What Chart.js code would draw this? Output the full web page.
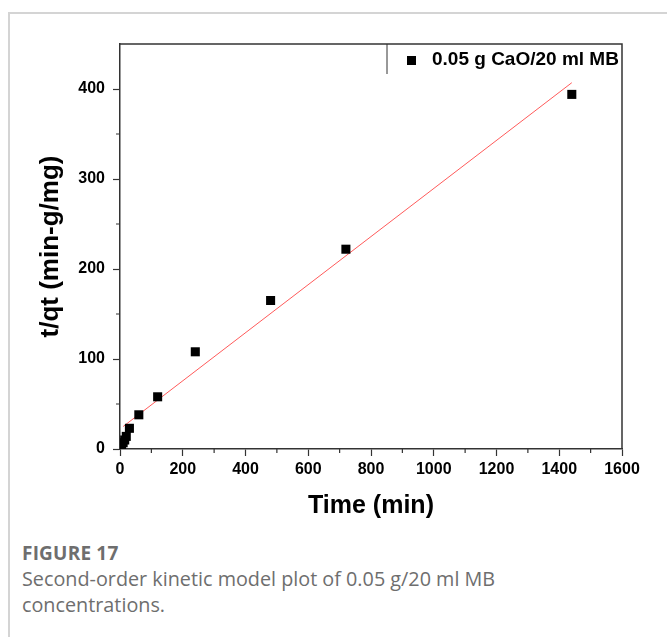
<!DOCTYPE html>
<html>
<head>
<meta charset="utf-8">
<script src="https://cdn.jsdelivr.net/npm/chart.js@4.4.0/dist/chart.umd.min.js"></script>
<style>
    html, body { margin: 0; padding: 0; background: #fff; }
    body { width: 667px; height: 637px; position: relative; overflow: hidden; }
    .card {
        position: absolute; left: 8px; top: 12px; width: 700px; height: 700px;
        border-top: 2px solid #d4d4d4; border-left: 2px solid #d4d4d4;
    }
    #chart { position: absolute; left: 0; top: 0; }
    .caption {
        position: absolute; left: 22px; top: 540px; width: 495px;
        font-family: "Open Sans", sans-serif; color: #6e6e6e; font-size: 19.8px; line-height: 26px;
    }
    .caption b { display: block; font-size: 19px; font-weight: 700; letter-spacing: 0.2px; }
</style>
</head>
<body>
<div class="card"></div>
<canvas id="chart" width="667" height="530"></canvas>
<div class="caption">
    <b>FIGURE 17</b>
    Second-order kinetic model plot of 0.05 g/20 ml MB concentrations.
</div>
<script>
const timeMin = [5, 10, 15, 20, 30, 60, 120, 240, 480, 720, 1440];
const tOverQt = [3, 7, 10, 14, 23, 38, 58, 108, 165, 222, 394];

// Fitted line end points
const fitTime = [10, 1440];
const fitValue = [25, 407];

const seriesLabel = '0.05 g CaO/20 ml MB';
const xTitle = 'Time (min)';
const yTitle = 't/qt (min-g/mg)';

const axisColor = '#333';
const tickFont = { family: '"Liberation Sans", Arial, sans-serif', size: 16, weight: 'bold' };

// Minor ticks, box frame and the legend
const framePlugin = {
    id: 'frame',
    afterDraw(chart) {
        const ctx = chart.ctx;
        const area = chart.chartArea;
        const xs = chart.scales.x;
        const ys = chart.scales.y;
        ctx.save();
        ctx.strokeStyle = axisColor;
        ctx.lineWidth = 1.5;

        // top and right sides of the box
        ctx.beginPath();
        ctx.moveTo(area.left, area.top);
        ctx.lineTo(area.right, area.top);
        ctx.lineTo(area.right, area.bottom);
        ctx.stroke();

        // minor ticks
        ctx.lineWidth = 1.2;
        ctx.beginPath();
        for (let v = 100; v < 1600; v += 200) {
            const px = xs.getPixelForValue(v);
            ctx.moveTo(px, area.bottom);
            ctx.lineTo(px, area.bottom + 4);
        }
        for (let v = 50; v < 450; v += 100) {
            const py = ys.getPixelForValue(v);
            ctx.moveTo(area.left, py);
            ctx.lineTo(area.left - 4, py);
        }
        ctx.stroke();

        // legend
        const lx = area.right - 235;
        ctx.lineWidth = 1;
        ctx.beginPath();
        ctx.moveTo(lx, area.top);
        ctx.lineTo(lx, area.top + 30);
        ctx.stroke();
        ctx.fillStyle = '#000';
        ctx.fillRect(lx + 20, area.top + 12, 9, 9);
        ctx.font = 'bold 19px "Liberation Sans", Arial, sans-serif';
        ctx.textBaseline = 'middle';
        ctx.fillText(seriesLabel, lx + 45, area.top + 16);
        ctx.restore();
    }
};

new Chart(document.getElementById('chart'), {
    type: 'scatter',
    data: {
        datasets: [
            {
                label: seriesLabel,
                data: timeMin.map((t, i) => ({ x: t, y: tOverQt[i] })),
                pointStyle: 'rect',
                pointRadius: 6.4,
                borderWidth: 0,
                backgroundColor: '#000',
                order: 0
            },
            {
                label: 'fit',
                data: fitTime.map((t, i) => ({ x: t, y: fitValue[i] })),
                showLine: true,
                pointRadius: 0,
                borderColor: '#ff5a5a',
                borderWidth: 1,
                order: 1
            }
        ]
    },
    options: {
        responsive: false,
        animation: false,
        devicePixelRatio: 1,
        layout: { padding: { left: 0, top: 44, right: 45, bottom: 0 } },
        plugins: {
            legend: { display: false },
            tooltip: { enabled: false }
        },
        scales: {
            x: {
                type: 'linear',
                min: 0,
                max: 1600,
                afterFit: (scale) => { scale.height = 81; },
                ticks: {
                    stepSize: 200, color: '#000', font: tickFont, padding: 4, maxRotation: 0,
                    callback: (v) => String(v)
                },
                grid: { drawOnChartArea: false, tickLength: 7, color: axisColor, tickWidth: 1.2 },
                border: { color: axisColor, width: 1.5 },
                title: {
                    display: true, text: xTitle, color: '#000',
                    font: { family: '"Liberation Sans", Arial, sans-serif', size: 25, weight: 'bold' },
                    padding: { top: 0, bottom: 9 }
                }
            },
            y: {
                type: 'linear',
                min: 0,
                max: 450,
                afterFit: (scale) => { scale.width = 120; },
                ticks: {
                    stepSize: 100, includeBounds: false, color: '#000', font: tickFont, padding: 8,
                    callback: (v) => String(v)
                },
                grid: { drawOnChartArea: false, tickLength: 7, color: axisColor, tickWidth: 1.2 },
                border: { color: axisColor, width: 1.5 },
                title: {
                    display: true, text: yTitle, color: '#000',
                    font: { family: '"Liberation Sans", Arial, sans-serif', size: 26, weight: 'bold' },
                    padding: { top: 35, bottom: 0 }
                }
            }
        }
    },
    plugins: [framePlugin]
});
</script>
</body>
</html>
